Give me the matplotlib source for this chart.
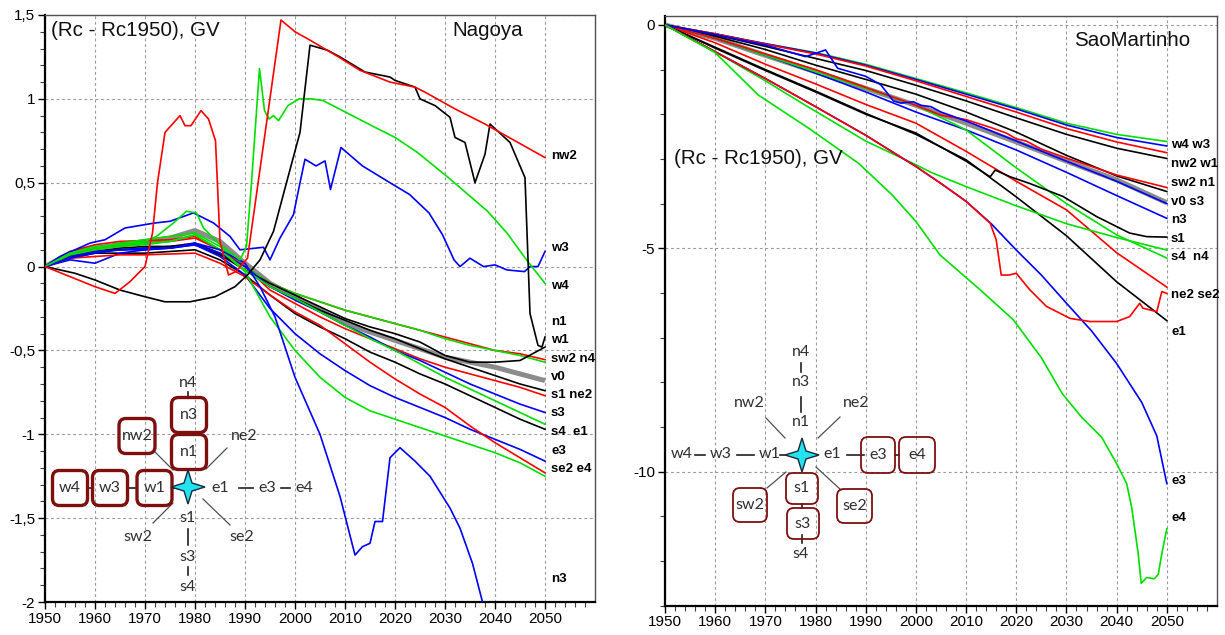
import matplotlib
matplotlib.use("Agg")
import matplotlib.pyplot as plt
from matplotlib.patches import FancyBboxPatch, Polygon
from matplotlib.lines import Line2D
from matplotlib.ticker import MultipleLocator, FuncFormatter, FixedLocator

# ---------------------------------------------------------------- data: Nagoya
NAG_YEARS = [1950, 1955, 1960, 1965, 1970, 1975, 1980, 1985, 1990, 1995, 2000,
             2005, 2010, 2015, 2020, 2025, 2030, 2035, 2040, 2045, 2050]
NAG_SW2 = [0, .09, .13, .15, .155, .16, .18, .10, .0, -.10, -.16, -.21, -.26, -.30, -.34, -.38, -.42, -.46, -.50, -.52, -.555]
NAG_N4 = [0, .08, .11, .14, .16, .18, .20, .12, .0, -.10, -.16, -.21, -.26, -.30, -.34, -.38, -.43, -.47, -.50, -.53, -.57]
NAG_W1 = [0, .06, .09, .10, .11, .12, .14, .08, -.02, -.10, -.17, -.24, -.31, -.36, -.40, -.45, -.53, -.57, -.57, -.56, -.48]
NAG_V0 = [0, .08, .11, .13, .15, .17, .215, .15, .02, -.10, -.18, -.26, -.34, -.39, -.44, -.49, -.54, -.57, -.60, -.64, -.68]
NAG_S1 = [0, .06, .09, .11, .12, .12, .13, .07, -.02, -.12, -.19, -.26, -.32, -.38, -.43, -.49, -.55, -.60, -.65, -.70, -.74]
NAG_NE2 = [0, .07, .11, .13, .14, .15, .17, .10, .0, -.14, -.22, -.30, -.37, -.43, -.49, -.55, -.60, -.64, -.68, -.72, -.77]
NAG_S3 = [0, .06, .09, .10, .11, .11, .13, .08, .0, -.12, -.20, -.27, -.35, -.42, -.50, -.56, -.63, -.70, -.76, -.82, -.87]
NAG_S4 = [0, .08, .12, .13, .14, .15, .19, .10, -.02, -.12, -.19, -.27, -.35, -.43, -.50, -.58, -.66, -.73, -.80, -.87, -.94]
NAG_E1 = [0, .05, .08, .08, .08, .09, .10, .04, -.05, -.17, -.28, -.36, -.43, -.51, -.57, -.64, -.70, -.77, -.84, -.91, -.97]
NAG_E3 = [0, .04, .02, .08, .10, .11, .13, .06, -.05, -.25, -.40, -.52, -.62, -.71, -.78, -.84, -.90, -.97, -1.03, -1.09, -1.16]
NAG_SE2 = [0, .05, .06, .07, .07, .075, .08, .02, -.06, -.17, -.27, -.35, -.46, -.57, -.67, -.76, -.84, -.95, -1.05, -1.14, -1.23]
NAG_E4 = [0, .07, .10, .12, .13, .15, .19, .10, -.03, -.30, -.50, -.66, -.78, -.86, -.91, -.96, -1.01, -1.06, -1.11, -1.17, -1.25]

NAG_NW2_YEARS = [1950, 1955, 1960, 1964, 1967, 1970, 1971.5, 1972.5, 1974, 1977, 1978, 1979.2, 1981.2,
                 1982.7, 1984.1, 1985, 1986.7, 1988.2, 1990.5, 1997.2, 2000, 2003, 2008.7, 2013, 2019,
                 2024, 2026, 2032, 2038, 2050]
NAG_NW2 = [0, -.06, -.12, -.16, -.09, 0.0, .2, .5, .8, .9, .84, .84, .93, .88, .75, .15, -.05, -.03,
           .05, 1.47, 1.40, 1.35, 1.25, 1.17, 1.10, 1.07, 1.04, .94, .85, .65]

NAG_N1_YEARS = [1950, 1956, 1960, 1965, 1970, 1974, 1979, 1984, 1988, 1990.5, 1993, 1995.7, 1998.3,
                2001, 2003, 2006.5, 2009, 2014, 2019, 2020, 2024, 2025, 2028, 2031, 2032, 2034, 2036,
                2038, 2039, 2043, 2046, 2047, 2048.6, 2049.4, 2050]
NAG_N1 = [0, -.04, -.08, -.14, -.18, -.21, -.21, -.18, -.12, -.05, .04, .21, .5, .8, 1.32, 1.29,
          1.25, 1.16, 1.13, 1.11, 1.07, 1.0, .96, .89, .77, .74, .5, .67, .85, .74, .53, -.28,
          -.47, -.48, -.42]

NAG_W3_YEARS = [1950, 1953, 1956, 1959, 1962, 1966, 1972, 1975, 1979.7, 1983.7, 1987, 1989, 1993.7,
                1995, 1997, 1999.7, 2001, 2002, 2004.2, 2006, 2007.1, 2009.2, 2013.5, 2019, 2022.9,
                2026.8, 2029.5, 2031.8, 2033, 2035, 2037.7, 2040, 2042.4, 2045.9, 2047, 2048.6, 2050]
NAG_W3 = [0, .06, .10, .14, .16, .23, .26, .27, .32, .26, .18, .10, .115, .04, .17, .31, .50, .64,
          .60, .63, .46, .71, .60, .50, .43, .32, .19, .04, .0, .05, .0, .01, -.02, -.03, .0, .0, .09]

NAG_W4_YEARS = [1950, 1955, 1960, 1965, 1970, 1972.3, 1975.7, 1978.3, 1980.3, 1981.7, 1985, 1989,
                1990.3, 1991.3, 1992.9, 1993.9, 1994.8, 1995.7, 1996.7, 1998.6, 2000.8, 2003.2,
                2005.6, 2009.5, 2016, 2020, 2024.5, 2030.7, 2034.6, 2038.5, 2042.4, 2046.3, 2050]
NAG_W4 = [0, .08, .11, .13, .15, .18, .26, .33, .32, .23, .13, .04, .12, .5, 1.18, .93, .88, .90,
          .87, .96, 1.0, 1.0, .99, .93, .83, .77, .68, .53, .43, .33, .20, .04, -.10]

NAG_N3_YEARS = [1950, 1955, 1960, 1965, 1970, 1975, 1980, 1985, 1990, 1993, 1996, 2000, 2005, 2009,
                2012, 2013.5, 2015, 2016, 2017.5, 2019, 2021, 2024, 2027, 2031, 2033, 2035.5, 2037.5,
                2040, 2045, 2050]
NAG_N3 = [0, .05, .08, .10, .10, .11, .14, .10, .02, -.12, -.30, -.66, -1.0, -1.37, -1.72, -1.67,
          -1.65, -1.52, -1.52, -1.14, -1.08, -1.16, -1.25, -1.44, -1.56, -1.77, -2.0, -2.25, -2.7, -3.1]

NAG_LABELS = ["nw2", "w3", "w4", "n1", "w1", "sw2 n4", "v0", "s1 ne2", "s3", "s4  e1", "e3", "se2 e4", "n3"]

# ---------------------------------------------------------------- data: SaoMartinho
SAO_YEARS = [1950, 1960, 1970, 1980, 1990, 2000, 2010, 2020, 2030, 2040, 2050]
SAO_W4 = [0, -.2, -.42, -.62, -.88, -1.2, -1.52, -1.85, -2.2, -2.45, -2.61]
SAO_W3 = [0, -.2, -.42, -.63, -.9, -1.22, -1.55, -1.88, -2.24, -2.52, -2.71]
SAO_NW2 = [0, -.2, -.43, -.65, -.92, -1.25, -1.6, -1.95, -2.32, -2.62, -2.86]
SAO_W1 = [0, -.22, -.48, -.75, -1.02, -1.35, -1.7, -2.08, -2.45, -2.76, -2.99]
SAO_N1 = [0, -.25, -.55, -.9, -1.22, -1.55, -1.95, -2.4, -2.92, -3.38, -3.73]
SAO_V0 = [0, -.3, -.68, -1.05, -1.42, -1.8, -2.2, -2.62, -3.05, -3.47, -3.98]
SAO_N3 = [0, -.3, -.68, -1.08, -1.5, -1.95, -2.35, -2.8, -3.3, -3.82, -4.33]
SAO_N4 = [0, -.3, -.68, -1.05, -1.42, -1.8, -2.35, -3.2, -4.0, -4.7, -5.22]
SAO_E1 = [0, -.5, -1.0, -1.48, -1.98, -2.45, -3.02, -3.85, -4.72, -5.75, -6.62]
SAO_NE2 = [0, -.4, -.88, -1.32, -1.78, -2.2, -2.83, -3.5, -4.14, -5.1, -5.87]

SAO_SW2_YEARS = [1950, 1960, 1970, 1980, 1990, 2000, 2005, 2010, 2015, 2018, 2020, 2022, 2025, 2030, 2040, 2050]
SAO_SW2 = [0, -.3, -.65, -1.0, -1.4, -1.8, -2.02, -2.12, -2.3, -2.42, -2.55, -2.6, -2.78, -2.98, -3.36, -3.64]

SAO_S3_YEARS = [1950, 1960, 1970, 1978, 1982, 1984.4, 1990, 1993, 1995.5, 1997, 1999.5, 2001, 2003,
                2005, 2010, 2020, 2030, 2040, 2050]
SAO_S3 = [0, -.22, -.45, -.71, -.56, -.97, -1.15, -1.34, -1.7, -1.75, -1.72, -1.8, -1.83, -1.95,
          -2.15, -2.6, -3.05, -3.5, -4.0]

SAO_S1_YEARS = [1950, 1960, 1970, 1980, 1990, 2000, 2010, 2014.8, 2015.8, 2018.8, 2022.7, 2029.3,
                2036, 2042.6, 2046, 2050]
SAO_S1 = [0, -.52, -1.02, -1.5, -2.0, -2.42, -3.05, -3.4, -3.25, -3.4, -3.55, -3.84, -4.29, -4.66, -4.74, -4.75]

SAO_S4_YEARS = [1950, 1960, 1970, 1978, 1990, 2000, 2003, 2010, 2020, 2030, 2040, 2045, 2050]
SAO_S4 = [0, -.6, -1.25, -1.8, -2.6, -3.13, -3.3, -3.62, -4.05, -4.45, -4.76, -4.9, -5.04]

SAO_E3_YEARS = [1950, 1960, 1970, 1980, 1990, 2000, 2005, 2010, 2015, 2020, 2025, 2030, 2035, 2040,
                2045, 2048, 2050]
SAO_E3 = [0, -.6, -1.2, -1.83, -2.47, -3.17, -3.55, -3.95, -4.45, -5.04, -5.6, -6.23, -6.85, -7.58,
          -8.45, -9.2, -10.27]

SAO_SE2_YEARS = [1950, 1960, 1970, 1980, 1990, 2000, 2005, 2010, 2014.8, 2016, 2017, 2018.5, 2020,
                 2022.7, 2026, 2030.7, 2034.7, 2040, 2042.6, 2044.6, 2045.2, 2048, 2049, 2050]
SAO_SE2 = [0, -.6, -1.2, -1.83, -2.47, -3.17, -3.55, -3.95, -4.44, -4.81, -5.6, -5.6, -5.56, -5.93,
           -6.3, -6.57, -6.64, -6.64, -6.53, -6.23, -6.34, -6.42, -5.97, -6.01]

SAO_E4_YEARS = [1950, 1960, 1968.6, 1978.6, 1988.6, 1995.3, 2000, 2004.8, 2012.8, 2019.4, 2025,
                2029.2, 2033, 2037, 2040, 2042, 2043, 2044.3, 2044.9, 2046, 2047.5, 2048.3, 2049, 2050]
SAO_E4 = [0, -.62, -1.57, -2.31, -3.1, -3.81, -4.4, -5.15, -5.93, -6.6, -7.45, -8.26, -8.78, -9.23,
          -9.82, -10.27, -10.8, -11.84, -12.5, -12.37, -12.4, -12.3, -11.84, -11.28]

SAO_LABELS = ["w4 w3", "nw2 w1", "sw2 n1", "v0 s3", "n3", "s1", "s4  n4", "ne2 se2", "e1", "e3", "e4"]

X_TICKS = [1950, 1960, 1970, 1980, 1990, 2000, 2010, 2020, 2030, 2040, 2050]
NAG_Y_TICKS = [-2, -1.5, -1, -0.5, 0, 0.5, 1, 1.5]
SAO_Y_TICKS = [-10, -5, 0]

# ---------------------------------------------------------------- styling
RED, BLACK, BLUE, GREEN, GRAY = "#ff0000", "#000000", "#0000ff", "#00e000", "#8c8c8c"
BOX_RED = "#7d0f0f"
TXT = "#303030"

def col(name):
    if name == "v0":
        return GRAY
    return {"1": BLACK, "2": RED, "3": BLUE, "4": GREEN}[name[-1]]

W, H = 1225, 635
fig = plt.figure(figsize=(W / 100, H / 100), dpi=100)
plt.rcParams["font.family"] = ["Liberation Sans", "DejaVu Sans"]

def px_box(l, t, r, b):
    return [l / W, 1 - b / H, (r - l) / W, (b - t) / H]

axL = fig.add_axes(px_box(45, 15, 595, 602))
axR = fig.add_axes(px_box(665, 16, 1217, 605.6))

nag_series = [
    ("v0", NAG_YEARS, NAG_V0),
    ("sw2", NAG_YEARS, NAG_SW2), ("n4", NAG_YEARS, NAG_N4), ("w1", NAG_YEARS, NAG_W1),
    ("s1", NAG_YEARS, NAG_S1), ("ne2", NAG_YEARS, NAG_NE2), ("s3", NAG_YEARS, NAG_S3),
    ("s4", NAG_YEARS, NAG_S4), ("e1", NAG_YEARS, NAG_E1), ("e3", NAG_YEARS, NAG_E3),
    ("se2", NAG_YEARS, NAG_SE2), ("e4", NAG_YEARS, NAG_E4),
    ("n3", NAG_N3_YEARS, NAG_N3), ("w3", NAG_W3_YEARS, NAG_W3), ("w4", NAG_W4_YEARS, NAG_W4),
    ("n1", NAG_N1_YEARS, NAG_N1), ("nw2", NAG_NW2_YEARS, NAG_NW2),
]
sao_series = [
    ("v0", SAO_YEARS, SAO_V0),
    ("w4", SAO_YEARS, SAO_W4), ("w3", SAO_YEARS, SAO_W3), ("nw2", SAO_YEARS, SAO_NW2),
    ("w1", SAO_YEARS, SAO_W1), ("n1", SAO_YEARS, SAO_N1), ("n3", SAO_YEARS, SAO_N3),
    ("n4", SAO_YEARS, SAO_N4), ("e1", SAO_YEARS, SAO_E1), ("ne2", SAO_YEARS, SAO_NE2),
    ("sw2", SAO_SW2_YEARS, SAO_SW2), ("s3", SAO_S3_YEARS, SAO_S3), ("s1", SAO_S1_YEARS, SAO_S1),
    ("s4", SAO_S4_YEARS, SAO_S4), ("e3", SAO_E3_YEARS, SAO_E3), ("se2", SAO_SE2_YEARS, SAO_SE2),
    ("e4", SAO_E4_YEARS, SAO_E4),
]

def comma(v, pos):
    return ("%g" % v).replace(".", ",")

def style_axes(ax, yticks, ylim, yminor):
    ax.set_xlim(1950, 2060)
    ax.set_ylim(*ylim)
    ax.xaxis.set_major_locator(FixedLocator(X_TICKS))
    ax.xaxis.set_minor_locator(FixedLocator(list(range(1950, 2060, 2))))
    ax.yaxis.set_major_locator(FixedLocator(yticks))
    ax.yaxis.set_minor_locator(MultipleLocator(yminor))
    ax.yaxis.set_major_formatter(FuncFormatter(comma))
    ax.tick_params(which="major", direction="out", length=5, width=1, labelsize=11, pad=2)
    ax.tick_params(which="minor", direction="out", length=3.5, width=0.8, color="#404040")
    ax.grid(True, which="major", color="#9a9a9a", linestyle=(0, (2.5, 2.5)), linewidth=0.8)
    for s in ("left", "bottom"):
        ax.spines[s].set_linewidth(1.6)
        ax.spines[s].set_color("black")
    for s in ("top", "right"):
        ax.spines[s].set_linewidth(1.0)
        ax.spines[s].set_color("#505050")
    ax.set_axisbelow(True)

style_axes(axL, NAG_Y_TICKS, (-2, 1.5), 0.1)
style_axes(axR, SAO_Y_TICKS, (-13, 0.2), 1)

for ax, series in ((axL, nag_series), (axR, sao_series)):
    for name, xs, ys in series:
        if name == "v0":
            ax.plot(xs, ys, color=GRAY, lw=3.6, solid_capstyle="butt", zorder=2)
        else:
            ax.plot(xs, ys, color=col(name), lw=1.2, zorder=3)

# ---------------------------------------------------------------- overlay (pixel coordinates)
ov = fig.add_axes([0, 0, 1, 1])
ov.set_xlim(0, W)
ov.set_ylim(H, 0)
ov.axis("off")
ov.patch.set_alpha(0)

ov.text(51, 31, "(Rc - Rc1950), GV", fontsize=14.8, ha="left", va="center", color="#111111")
ov.text(452, 31, "Nagoya", fontsize=14.8, ha="left", va="center", color="#111111")
ov.text(1074, 40, "SaoMartinho", fontsize=14.8, ha="left", va="center", color="#111111")
ov.text(674, 159, "(Rc - Rc1950), GV", fontsize=14.8, ha="left", va="center", color="#111111")

nag_label_y = [156, 248, 286, 322, 340, 359, 377, 395, 413, 432, 451, 469, 579]
for s, y in zip(NAG_LABELS, nag_label_y):
    ov.text(551, y, s, fontsize=9.5, fontweight="bold", ha="left", va="center")
sao_label_y = [145, 164, 183, 202, 220, 239, 257, 295, 332, 481, 518]
for s, y in zip(SAO_LABELS, sao_label_y):
    ov.text(1171, y, s, fontsize=9.5, fontweight="bold", ha="left", va="center")

DFONT = dict(fontsize=11.5, family=["Lato", "DejaVu Sans"], color=TXT, ha="center", va="center")

def star(cx, cy, r=17, i=4):
    pts = [(cx, cy - r), (cx + i, cy - i), (cx + r, cy), (cx + i, cy + i),
           (cx, cy + r), (cx - i, cy + i), (cx - r, cy), (cx - i, cy - i)]
    ov.add_patch(Polygon(pts, closed=True, fc="#22e4f0", ec="#1a2a3a", lw=1.0, zorder=6))

def box(cx, cy, w, h, lw):
    ov.add_patch(FancyBboxPatch((cx - w / 2, cy - h / 2), w, h,
                                boxstyle="round,pad=0,rounding_size=7",
                                fc="none", ec=BOX_RED, lw=lw, zorder=5))

def seg(x0, y0, x1, y1, c="#404040", lw=1.0):
    ov.add_line(Line2D([x0, x1], [y0, y1], color=c, lw=lw, zorder=4))

# left compass
LW_L = 2.4
for lab, cx, cy in (("n3", 189, 415), ("n1", 189, 452), ("nw2", 137, 436),
                    ("w4", 70, 488), ("w3", 110, 488), ("w1", 154.5, 488)):
    box(cx, cy, 35 if lab != "nw2" else 36, 35, LW_L)
    ov.text(cx, cy, lab, **DFONT)
for lab, cx, cy in (("n4", 188, 383), ("ne2", 244, 436), ("e1", 220, 488), ("e3", 267, 488),
                    ("e4", 304, 488), ("sw2", 138, 537), ("se2", 242, 537), ("s1", 188, 518),
                    ("s3", 188, 557), ("s4", 188, 587)):
    ov.text(cx, cy, lab, **DFONT)
seg(188, 392, 188, 398, "#202020", 1.2)
seg(188, 432, 188, 435, "#202020", 1.2)
seg(87, 488, 93, 488, "#202020", 1.2)
seg(127, 488, 137, 488, "#202020", 1.2)
seg(172, 488, 181, 488, "#202020", 1.2)
seg(239, 488, 253, 488, "#202020", 1.2)
seg(281, 488, 290, 488, "#202020", 1.2)
seg(188, 529, 188, 545, "#202020", 1.2)
seg(188, 567, 188, 575, "#202020", 1.2)
seg(155, 452, 173, 470, "#505050", 0.9)
seg(227, 448, 206, 469, "#505050", 0.9)
seg(153, 523, 173, 503, "#505050", 0.9)
seg(203, 499, 230, 525, "#505050", 0.9)
star(188, 487)

# right compass
LW_R = 1.3
for lab, cx, cy, w, h in (("e3", 878, 455, 34, 36), ("e4", 917, 455, 36, 36),
                          ("s1", 802, 488.5, 32, 31), ("s3", 803, 523.5, 32, 31),
                          ("sw2", 750, 505, 34, 34), ("se2", 854.5, 506, 35, 34)):
    box(cx, cy, w, h, LW_R)
    ov.text(cx, cy, lab, **DFONT)
for lab, cx, cy in (("n4", 801, 352), ("n3", 801, 382), ("n1", 801, 422), ("nw2", 749, 403),
                    ("ne2", 856, 403), ("w4", 682, 454), ("w3", 721, 454), ("w1", 770, 454),
                    ("e1", 832, 454), ("s4", 801, 554)):
    ov.text(cx, cy, lab, **DFONT)
seg(695, 455, 705, 455, "#202020", 1.2)
seg(737, 455, 754, 455, "#202020", 1.2)
seg(780, 455, 786, 455, "#202020", 1.2)
seg(847, 455, 864, 455, "#202020", 1.2)
seg(895, 455, 899, 455, "#202020", 1.2)
seg(801, 363, 801, 372, "#202020", 1.2)
seg(801, 397, 801, 412, "#202020", 1.2)
seg(802, 504, 802, 508, "#202020", 1.2)
seg(802, 535, 802, 543, "#202020", 1.2)
seg(766, 418, 785, 438, "#505050", 0.9)
seg(840, 417, 818, 438, "#505050", 0.9)
seg(767, 488, 786, 472, "#505050", 0.9)
seg(816, 467, 841, 490, "#505050", 0.9)
star(802, 455)

fig.savefig("out.png", dpi=100)
